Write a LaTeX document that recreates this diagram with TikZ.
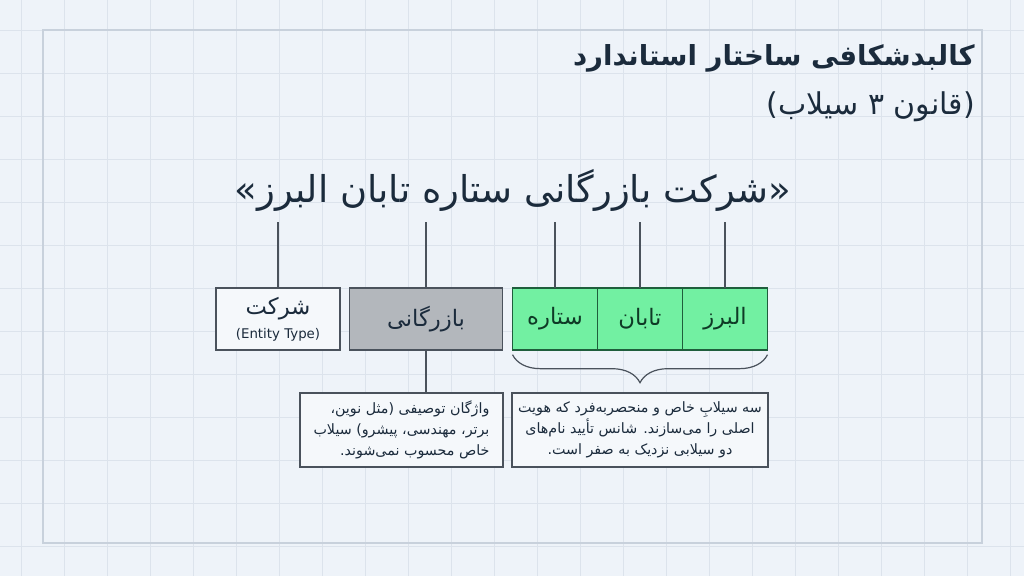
\documentclass[tikz,border=0pt]{standalone}
\usepackage{fontspec}
\setmainfont{DejaVu Sans}
\newfontfamily\fafont[Script=Arabic]{DejaVu Sans}
\TeXXeTstate=1
\usepackage{tikz}
\usetikzlibrary{positioning}
\usetikzlibrary{decorations.pathreplacing}

\definecolor{paper}{HTML}{EEF3F9}
\definecolor{gridline}{HTML}{DCE3EC}
\definecolor{framecol}{HTML}{C8D1DC}
\definecolor{ink}{HTML}{1B2B3C}
\definecolor{boxline}{HTML}{4A525C}
\definecolor{entfill}{HTML}{F5F8FB}
\definecolor{grayfill}{HTML}{B3B7BC}
\definecolor{sylgreen}{HTML}{72F0A2}
\definecolor{syledge}{HTML}{1F5E3C}
\definecolor{syltext}{HTML}{0F3A26}

\newcommand{\fa}[1]{{\fafont\beginR #1\endR}}
\newcommand{\lp}[1]{{\rmfamily #1}}

\tikzset{
  heading/.style={anchor=east, inner sep=0pt, text=ink},
  wordbox/.style={draw=boxline, line width=0.9pt, minimum height=46.5pt, inner sep=0pt,
    outer sep=0pt, text=ink, font=\fontsize{17}{20}\selectfont},
  sylbox/.style={wordbox, fill=sylgreen, draw=syledge, text=syltext, minimum width=63.75pt},
  notebox/.style={draw=boxline, line width=0.9pt, fill=entfill, minimum height=55.5pt,
    inner sep=3pt, text=ink, font=\fontsize{10.7}{15.75}\selectfont},
  tick/.style={draw=boxline, line width=0.9pt},
  bracket/.style={draw=boxline, line width=0.9pt, decorate,
    decoration={brace, mirror, amplitude=21pt}},
}

\begin{document}
\begin{tikzpicture}[x=0.75pt,y=-0.75pt]
\useasboundingbox (0,0) rectangle (1024,576);
% background sheet
\fill[paper] (0,0) rectangle (1024,576);
\foreach \gx in {21,64,...,1010} \draw[gridline] (\gx,0) -- (\gx,576);
\foreach \gy in {30,73,...,570} \draw[gridline] (0,\gy) -- (1024,\gy);
\draw[framecol, line width=0.8pt] (43,30) rectangle (982,543);

% headings
\node[heading, font=\fontsize{20.7}{25}\selectfont\bfseries] (title) at (975,58)
  {\fa{کالبدشکافی ساختار استاندارد}};
\node[heading, font=\fontsize{22.5}{26}\selectfont] (subtitle) at (975,107)
  {\fa{\lp{)}قانون ۳ سیلاب\lp{(}}};
\node[text=ink, font=\fontsize{27.7}{33}\selectfont] (brand) at (513,190)
  {\fa{\lp{»}شرکت بازرگانی ستاره تابان البرز\lp{«}}};

% word boxes
\node[wordbox, fill=entfill, minimum width=93pt, align=center] (sherkat) at (278,319)
  {\fa{شرکت}\\[-2pt]{\fontsize{10}{12}\selectfont(Entity Type)}};
\node[wordbox, fill=grayfill, minimum width=114.75pt] (bazargani) at (426,319) {\fa{بازرگانی}};
\node[sylbox] (setare) at (555,319) {\fa{ستاره}};
\node[sylbox, right=0pt of setare] (taban) {\fa{تابان}};
\node[sylbox, right=0pt of taban] (alborz) {\fa{البرز}};

\coordinate (top) at (0,222);
\foreach \n in {sherkat,bazargani,setare,taban,alborz}
  \path[tick] (\n.north |- top) edge (\n.north);

% notes
\node[notebox, minimum width=152.25pt, align=right] (leftnote) at (401.5,430)
  {\fa{واژگان توصیفی \lp{)}مثل نوین\lp{،}}\\
   \fa{برتر\lp{،} مهندسی\lp{،} پیشرو\lp{(} سیلاب}\\
   \fa{خاص محسوب نمی‌شوند\lp{.}}};
\node[notebox, minimum width=192pt, align=center] (rightnote) at (640,430)
  {\fa{سه سیلابِ خاص و منحصربه‌فرد که هویت}\\
   \fa{اصلی را می‌سازند\lp{.} شانس تأیید نام‌های}\\
   \fa{دو سیلابی نزدیک به صفر است\lp{.}}};

\path[tick] (bazargani.south) edge (bazargani.south |- leftnote.north);
\draw[bracket] ([yshift=-3.5pt]setare.south west) -- ([yshift=-3.5pt]alborz.south east);
\end{tikzpicture}
\end{document}
